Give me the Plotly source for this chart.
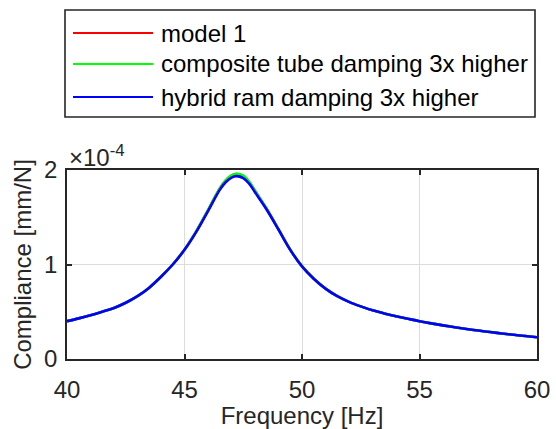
import plotly.graph_objects as go

# Frequency grid [Hz]
freq = [40, 40.5, 41, 41.5, 42, 42.5, 43, 43.5, 44, 44.5, 45, 45.5, 46, 46.5, 46.75,
        47, 47.2, 47.5, 47.75, 48, 48.5, 49, 49.5, 50, 50.5, 51, 51.5, 52, 52.5,
        53, 53.5, 54, 54.5, 55, 55.5, 56, 56.5, 57, 57.5, 58, 58.5, 59, 59.5, 60]

# Compliance values in units of 1e-4 mm/N
hybrid_ram = [0.40, 0.43, 0.463, 0.50, 0.54, 0.595, 0.665, 0.755, 0.87, 1.0, 1.155,
              1.345, 1.565, 1.79, 1.87, 1.92, 1.935, 1.915, 1.855, 1.765, 1.58, 1.37,
              1.155, 0.98, 0.85, 0.745, 0.665, 0.605, 0.557, 0.515, 0.482, 0.453,
              0.426, 0.40, 0.377, 0.356, 0.336, 0.318, 0.301, 0.285, 0.27, 0.256,
              0.243, 0.23]
composite_tube = [0.40, 0.43, 0.463, 0.50, 0.54, 0.595, 0.665, 0.755, 0.87, 1.0, 1.157,
                  1.35, 1.575, 1.805, 1.89, 1.942, 1.96, 1.94, 1.875, 1.78, 1.588, 1.372,
                  1.156, 0.98, 0.85, 0.745, 0.665, 0.605, 0.557, 0.515, 0.482, 0.453,
                  0.426, 0.40, 0.377, 0.356, 0.336, 0.318, 0.301, 0.285, 0.27, 0.256,
                  0.243, 0.23]
model_1 = [0.40, 0.43, 0.463, 0.50, 0.54, 0.595, 0.665, 0.755, 0.87, 1.0, 1.157,
           1.35, 1.574, 1.803, 1.888, 1.94, 1.957, 1.937, 1.873, 1.778, 1.587, 1.372,
           1.156, 0.98, 0.85, 0.745, 0.665, 0.605, 0.557, 0.515, 0.482, 0.453,
           0.426, 0.40, 0.377, 0.356, 0.336, 0.318, 0.301, 0.285, 0.27, 0.256,
           0.243, 0.23]

series_names = ["model 1", "composite tube damping 3x higher", "hybrid ram damping 3x higher"]
series_values = [model_1, composite_tube, hybrid_ram]
series_colors = ["#ff0000", "#00ff00", "#0000ff"]

x_ticks = [40, 45, 50, 55, 60]
y_ticks = [0, 1, 2]
scale = 1e-4

FONT = "Liberation Sans, Arial, Helvetica, sans-serif"
AXIS = "#262626"
FS = 24

fig = go.Figure()
for name, vals, col in zip(series_names, series_values, series_colors):
    fig.add_trace(go.Scatter(
        x=freq, y=[v * scale for v in vals], name=name, mode="lines",
        line=dict(color=col, width=2.6, shape="spline", smoothing=1.0),
        showlegend=False,
    ))

axis_common = dict(
    showline=True, linecolor=AXIS, linewidth=1.6, mirror="allticks",
    ticks="inside", ticklen=5, tickwidth=1.6, tickcolor=AXIS,
    showgrid=True, gridcolor="#dcdcdc", gridwidth=1.3, automargin=False,
    zeroline=False, tickfont=dict(family=FONT, size=FS, color=AXIS),
)

fig.update_xaxes(range=[40, 60], tickvals=x_ticks, ticktext=[str(t) for t in x_ticks],
                 ticklabelstandoff=8,
                 title=dict(text="Frequency [Hz]", font=dict(family=FONT, size=FS, color=AXIS),
                            standoff=4),
                 **axis_common)
fig.update_yaxes(range=[0, 2 * scale], tickvals=[t * scale for t in y_ticks],
                 ticktext=[str(t) for t in y_ticks], ticklabelstandoff=3,
                 title=dict(text="Compliance [mm/N]", font=dict(family=FONT, size=FS, color=AXIS),
                            standoff=6),
                 **axis_common)

# Exponent label above the y axis
fig.add_annotation(xref="paper", yref="paper", x=0.0, y=1.0, xanchor="left", yanchor="bottom",
                   text="×10<sup>-4</sup>", showarrow=False, yshift=-3, xshift=0,
                   font=dict(family=FONT, size=FS, color=AXIS))

# Legend box drawn in pixel-like paper coordinates above the axes
W, H = 556, 429
ml, mr, mt, mb = 67, 19, 170, 70
pw, ph = W - ml - mr, H - mt - mb


def px(xp):
    return (xp - ml) / pw


def py(yp):
    return (H - mb - yp) / ph


fig.add_shape(type="rect", xref="paper", yref="paper",
              x0=px(65), x1=px(535), y0=py(117), y1=py(10),
              line=dict(color=AXIS, width=1.6), fillcolor="white")
rows_y = [33, 64, 97]
for name, col, ry in zip(series_names, series_colors, rows_y):
    fig.add_shape(type="line", xref="paper", yref="paper",
                  x0=px(73), x1=px(153), y0=py(ry), y1=py(ry),
                  line=dict(color=col, width=2))
    fig.add_annotation(xref="paper", yref="paper", x=px(159), y=py(ry),
                       xanchor="left", yanchor="middle", text=name, showarrow=False,
                       font=dict(family=FONT, size=FS, color="#000000"))

fig.update_layout(
    width=W, height=H,
    margin=dict(l=ml, r=mr, t=mt, b=mb, pad=0),
    paper_bgcolor="white", plot_bgcolor="white",
    font=dict(family=FONT, color=AXIS),
)

fig.write_html("out.html")
